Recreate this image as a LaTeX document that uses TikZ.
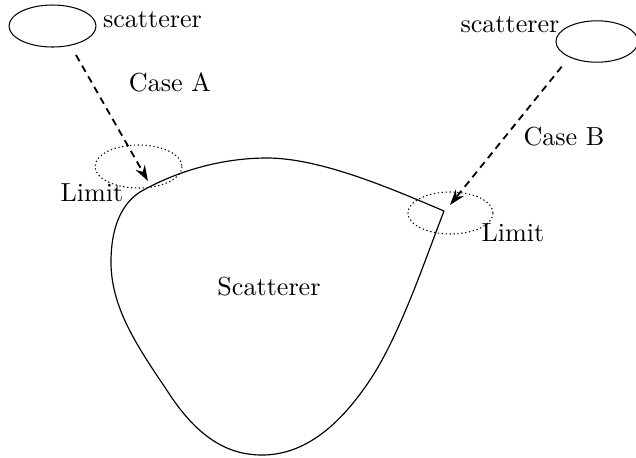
\documentclass[tikz,border=0pt]{standalone}
\usetikzlibrary{arrows.meta}
\begin{document}
\begin{tikzpicture}[x=0.383pt,y=-0.383pt,
  lbl/.style={anchor=base,inner sep=0pt},
  solidell/.style={draw,line width=0.4pt},
  limitell/.style={draw,line width=0.4pt,dash pattern=on 0.5pt off 1pt},
  incident/.style={line width=0.7pt,dash pattern=on 2.7pt off 2pt,-{Stealth[length=6pt,width=4pt]}},
  body/.style={draw,line width=0.45pt}]
\useasboundingbox (0,0) rectangle (636,457);
% scatterer ellipses
\draw[solidell] (52.5,26) ellipse [x radius=43.5, y radius=21];
\draw[solidell] (597,41.5) ellipse [x radius=41, y radius=20.7];
\node[lbl] (scA) at (152.5,27) {scatterer};
\node[lbl] (scB) at (510,32.3) {scatterer};
% main scatterer body
\draw[body] (444,211) .. controls (390,188) and (320,158) .. (267,158)
  .. controls (220,158) and (175,172) .. (140,192)
  .. controls (120,205) and (111,230) .. (111,262)
  .. controls (111,310) and (140,350) .. (170,395)
  .. controls (200,440) and (230,455) .. (262,455)
  .. controls (305,455) and (340,425) .. (370,380)
  .. controls (400,335) and (425,260) .. (444,211);
\node[lbl] (main) at (269,295) {Scatterer};
% limit ellipses
\draw[limitell] (138.5,166.5) ellipse [x radius=43.5, y radius=21.5];
\draw[limitell] (450.5,213) ellipse [x radius=42.5, y radius=21];
\node[lbl] (limA) at (92,201.7) {Limit};
\node[lbl] (limB) at (513,241.7) {Limit};
% case labels
\node[lbl] (caseA) at (170,91.7) {Case A};
\node[lbl] (caseB) at (564,145) {Case B};
% incident arrows
\coordinate (a1) at (76,55);
\coordinate (a2) at (148,181);
\coordinate (b1) at (561.7,66.7);
\coordinate (b2) at (450,205);
\draw[incident] (a1) -- (a2);
\draw[incident] (b1) -- (b2);
\end{tikzpicture}
\end{document}
